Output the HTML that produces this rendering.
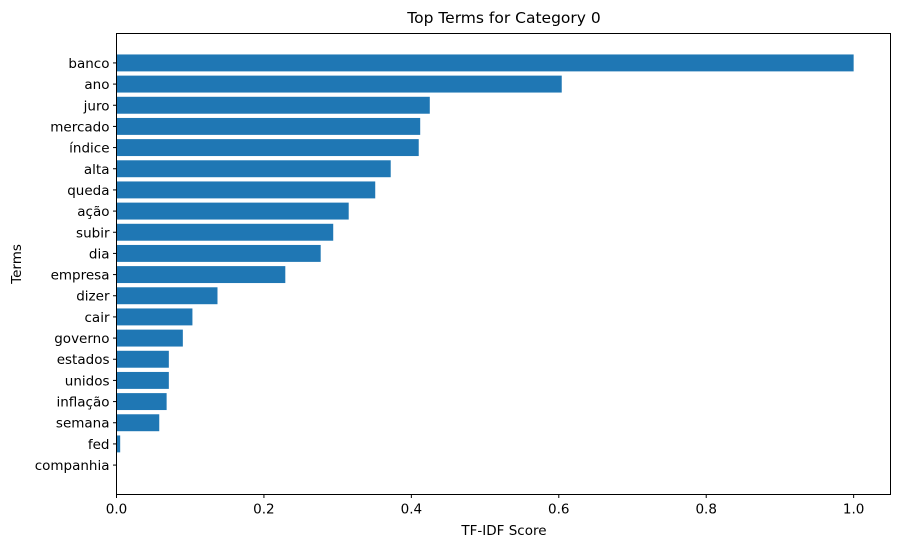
<!DOCTYPE html>
<html><head><meta charset="utf-8"><style>
body{margin:0;background:#fff;}
svg text{font-family:"DejaVu Sans","Liberation Sans",sans-serif;fill:#000;}
</style></head><body>
<svg id="chart" width="901" height="547" xmlns="http://www.w3.org/2000/svg">
<rect width="901" height="547" fill="#fff"/>
<text x="504" y="23" font-size="15.5" text-anchor="middle">Top Terms for Category 0</text>
<text x="504" y="535" font-size="13.5" text-anchor="middle">TF-IDF Score</text>
<text transform="translate(21,264) rotate(-90)" font-size="13.5" text-anchor="middle">Terms</text>
<g id="bars"></g><g id="yticks"></g><g id="xticks"></g>
<rect x="116.5" y="33.5" width="774" height="461" fill="none" stroke="#000" stroke-width="1"/>
</svg>
<script>
const terms=["banco","ano","juro","mercado","índice","alta","queda","ação","subir","dia","empresa","dizer","cair","governo","estados","unidos","inflação","semana","fed","companhia"];
const scores=[1.0,0.604,0.425,0.412,0.41,0.372,0.351,0.315,0.294,0.277,0.229,0.137,0.103,0.09,0.071,0.071,0.068,0.058,0.005,0.0];
const xTicks=[0,0.2,0.4,0.6,0.8,1.0];
const xTickLabels=["0.0","0.2","0.4","0.6","0.8","1.0"];
const L=116.5,R=890.5,T=33.5,B=494.5;
const xmax=1.05;
const x=v=>L+(v/xmax)*(R-L);
const n=terms.length;
const ext=(n-0.2);
const yTop=-0.4-0.05*ext, yBot=n-1+0.4+0.05*ext;
const y=i=>T+((i-yTop)/(yBot-yTop))*(B-T);
const step=(B-T)/(yBot-yTop);
const NS="http://www.w3.org/2000/svg";
const bars=document.getElementById('bars'),yt=document.getElementById('yticks'),xt=document.getElementById('xticks');
terms.forEach((t,i)=>{
  const r=document.createElementNS(NS,'rect');
  
  
  r.setAttribute('x',L);r.setAttribute('y',y(i)-step*0.4);
  r.setAttribute('width',Math.max(0,x(scores[i])-L));r.setAttribute('height',step*0.8);
  r.setAttribute('fill','#1f77b4');bars.appendChild(r);
  const l=document.createElementNS(NS,'line');
  
  
  l.setAttribute('x1',L-3.5);l.setAttribute('x2',L);l.setAttribute('y1',y(i));l.setAttribute('y2',y(i));l.setAttribute('stroke','#000');yt.appendChild(l);
  const tx=document.createElementNS(NS,'text');
  
  
  tx.setAttribute('x',L-7);tx.setAttribute('y',y(i)+5);tx.setAttribute('font-size','13.5');tx.setAttribute('text-anchor','end');tx.textContent=t;yt.appendChild(tx);
});
xTicks.forEach((v,i)=>{
  const l=document.createElementNS(NS,'line');
  
  
  l.setAttribute('x1',x(v));l.setAttribute('x2',x(v));l.setAttribute('y1',B);l.setAttribute('y2',B+3.5);l.setAttribute('stroke','#000');xt.appendChild(l);
  const tx=document.createElementNS(NS,'text');
  
  
  tx.setAttribute('x',x(v));tx.setAttribute('y',B+19);tx.setAttribute('font-size','13.5');tx.setAttribute('text-anchor','middle');tx.textContent=xTickLabels[i];xt.appendChild(tx);
});
</script>
</body></html>
